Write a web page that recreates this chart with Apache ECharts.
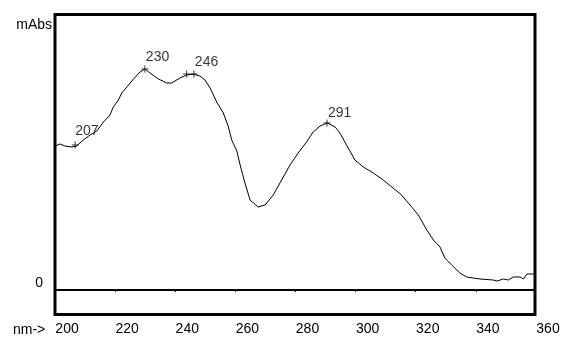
<!DOCTYPE html>
<html>
<head>
<meta charset="utf-8">
<script src="https://cdn.jsdelivr.net/npm/echarts@6/dist/echarts.min.js"></script>
<style>
html,body{margin:0;padding:0;background:#fff;}
#chart{width:564px;height:337px;}
</style>
</head>
<body>
<div id="chart"></div>
<script>
// Wavelength (nm) sampled along the trace
var wavelengths = [196.0,197.7,199.3,201.6,203.2,205.4,207.7,209.9,212.1,214.3,215.4,217.1,218.2,219.9,222.1,224.3,225.9,227.6,230.4,233.2,234.8,237.6,239.8,242.0,244.2,245.9,247.6,249.8,252.0,253.7,254.8,256.5,257.6,259.2,260.9,263.6,265.9,268.6,271.4,274.2,276.9,279.7,281.9,284.2,286.6,289.2,290.8,293.0,295.8,298.6,301.9,305.2,308.5,311.3,314.1,316.9,319.7,321.9,324.1,325.7,328.0,330.7,333.0,337.4,341.8,343.0,345.2,346.8,348.5,350.7,351.9,353.0,355.2,355.7];
// Absorbance (arbitrary mAbs units, 0 = baseline)
var absorbance = [144,146,144,143,144,150,155,159,168,175,183,190,197,203,211,218,221,217,211,207,207,212,215,216,214,210,202,188,177,163,150,139,125,107,90,83,85,95,110,125,137,148,158,164,167,163,157,145,130,123,117,110,102,95,85,75,60,50,43,32,25,17,13,11,10,9,11,10,13,13,11,16,16,16];
// Peak markers
var peakNm = [202.7, 225.9, 239.8, 242.2, 286.5];
var peakVal = [145, 221, 216, 216, 167];
var peakLabels = ['207', '230', '', '246', '291'];
var peakLabelDy = [-10.5, -8.5, -8.5, -8.5, -6.5];
var peakLabelDx = [3.5, 4.5, 4.5, 4.5, 4.5];
// Axis tick labels
var xTickLabels = [200,220,240,260,280,300,320,340,360];
var topTicks = [216,236,256,276,296,316,336];

var lineData = wavelengths.map(function(w,i){return [w, absorbance[i]];});
var peakData = peakNm.map(function(w,i){
  return {value:[w, peakVal[i]], name: peakLabels[i],
    label:{position:[peakLabelDx[i], peakLabelDy[i]]}};
});

var FONT = 'Liberation Sans, Arial, sans-serif';
var chart = echarts.init(document.getElementById('chart'));
chart.setOption({
  animation:false,
  backgroundColor:'#fff',
  title:[
    {text:'nm->', left:13, top:323, padding:0,
      textStyle:{color:'#000', fontSize:14, fontWeight:'normal', fontFamily:FONT}},
    {text:'mAbs', right:512, top:18, padding:0,
      textStyle:{color:'#000', fontSize:14, fontWeight:'normal', fontFamily:FONT}}
  ],
  grid:[
    {left:55, right:29, top:14.5, bottom:22.5, show:true, borderColor:'#000', borderWidth:3, backgroundColor:'transparent'},
    {left:55, right:16, top:14.5, bottom:22.5, show:false}
  ],
  xAxis:[
    {type:'value', gridIndex:0, min:196, max:355.7, position:'top',
      axisLine:{show:false}, splitLine:{show:false}, axisLabel:{show:false},
      axisTick:{show:true, inside:true, length:2, lineStyle:{color:'#000', width:1}, customValues:topTicks}},
    {type:'value', gridIndex:1, min:196, max:360, position:'bottom',
      axisLine:{show:false}, splitLine:{show:false}, axisTick:{show:false},
      axisLabel:{show:true, customValues:xTickLabels, margin:8, color:'#000', fontSize:14, fontFamily:FONT}}
  ],
  yAxis:[
    {type:'value', gridIndex:0, min:-24.5, max:275.5,
      axisLine:{show:false}, splitLine:{show:false}, axisTick:{show:false},
      axisLabel:{show:true, customValues:[0], margin:12, color:'#000', fontSize:14, fontFamily:FONT, verticalAlign:'bottom'}},
    {type:'value', gridIndex:1, min:-24.5, max:275.5, show:false}
  ],
  series:[
    {type:'line', xAxisIndex:0, yAxisIndex:0, data:lineData, showSymbol:false, smooth:false,
      lineStyle:{color:'#000', width:1}, silent:true,
      markLine:{silent:true, symbol:'none', label:{show:false},
        lineStyle:{color:'#000', width:2, type:'solid'}, data:[{yAxis:0}]}},
    {type:'scatter', xAxisIndex:0, yAxisIndex:0, data:peakData,
      symbol:'path://M3,0h1v3h3v1h-3v3h-1v-3h-3v-1h3z', symbolSize:7,
      itemStyle:{color:'#000'},
      label:{show:true, formatter:'{b}', color:'#000', fontSize:14, fontFamily:FONT, align:'left', verticalAlign:'middle'}}
  ]
});
</script>
</body>
</html>
